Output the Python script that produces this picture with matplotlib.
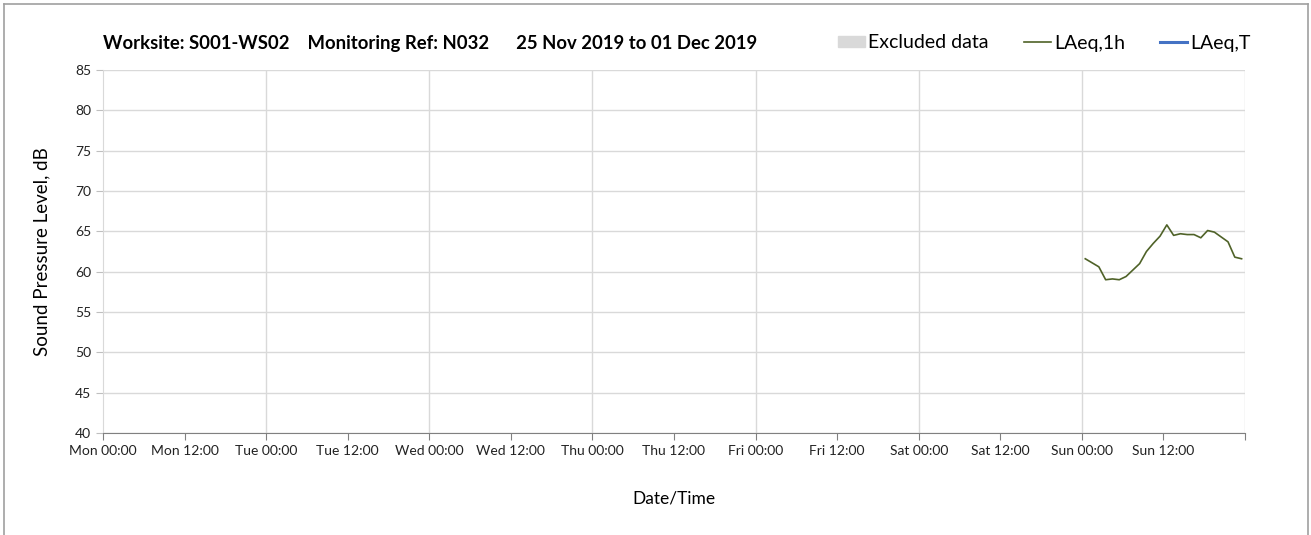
import matplotlib.pyplot as plt
import matplotlib.patches as mpatches
from matplotlib.lines import Line2D

plt.rcParams['font.family'] = ['Lato', 'DejaVu Sans']

# hours since Mon 00:00
hours = [144.5, 145.5, 146.5, 147.5, 148.5, 149.5, 150.5, 151.5, 152.5, 153.5, 154.5, 155.5,
         156.5, 157.5, 158.5, 159.5, 160.5, 161.5, 162.5, 163.5, 164.5, 165.5, 166.5, 167.5]
laeq_1h = [61.6, 61.1, 60.6, 59.0, 59.1, 59.0, 59.4, 60.2, 61.0, 62.5, 63.5, 64.4,
           65.8, 64.5, 64.7, 64.6, 64.6, 64.2, 65.1, 64.9, 64.3, 63.7, 61.8, 61.6]

tick_hours = list(range(0, 169, 12))
tick_labels = ['Mon 00:00', 'Mon 12:00', 'Tue 00:00', 'Tue 12:00', 'Wed 00:00', 'Wed 12:00',
               'Thu 00:00', 'Thu 12:00', 'Fri 00:00', 'Fri 12:00', 'Sat 00:00', 'Sat 12:00',
               'Sun 00:00', 'Sun 12:00', '']

title = 'Worksite: S001-WS02    Monitoring Ref: N032      25 Nov 2019 to 01 Dec 2019'

fig = plt.figure(figsize=(13.11, 5.35), dpi=100)
ax = fig.add_axes([103 / 1311, 1 - 433 / 535, (1245 - 103) / 1311, (433 - 70) / 535])

ax.plot(hours, laeq_1h, color='#4f6228', linewidth=1.2)

ax.set_xlim(0, 168)
ax.set_ylim(40, 85)
ax.set_xticks(tick_hours)
ax.set_xticklabels(tick_labels, fontsize=10, color='#222222')
ax.set_yticks(range(40, 86, 5))
ax.tick_params(axis='y', labelsize=10, colors='#222222', length=5, color='#bfbfbf')
ax.tick_params(axis='x', length=5, color='#808080', colors='#222222')

# gridlines: horizontal every 5 dB, vertical every day
ax.grid(axis='y', color='#d9d9d9', linewidth=1)
for d in range(24, 169, 24):
    ax.axvline(d, color='#d9d9d9', linewidth=1, zorder=0)

for side in ['top', 'right']:
    ax.spines[side].set_visible(False)
ax.spines['left'].set_color('#d9d9d9')
ax.spines['bottom'].set_color('#808080')

ax.set_xlabel('Date/Time', fontsize=12.5, labelpad=24)
ax.set_ylabel('Sound Pressure Level, dB', fontsize=13.5, labelpad=18)

fig.text(103 / 1311, 1 - 43 / 535, title, fontsize=13.3, fontweight='bold', va='center')

handles = [mpatches.Patch(color='#d9d9d9', label='Excluded data'),
           Line2D([], [], color='#4f6228', linewidth=1.2, label='LAeq,1h'),
           Line2D([], [], color='#4472c4', linewidth=2.2, label='LAeq,T')]
fig.legend(handles=handles, loc='center right', bbox_to_anchor=(1268 / 1311, 1 - 43 / 535),
           ncol=3, frameon=False, fontsize=14, handlelength=1.4, handletextpad=0.15,
           columnspacing=1.8, handleheight=0.55)

# outer frame
fig.add_artist(Line2D([4 / 1311, 4 / 1311], [0, 1 - 4 / 535], transform=fig.transFigure, color='#a0a0a0', lw=1.2))
fig.add_artist(Line2D([4 / 1311, 1308 / 1311], [1 - 4 / 535, 1 - 4 / 535], transform=fig.transFigure, color='#a0a0a0', lw=1.2))
fig.add_artist(Line2D([1308 / 1311, 1308 / 1311], [0, 1 - 4 / 535], transform=fig.transFigure, color='#a0a0a0', lw=1.2))

fig.savefig('out.png', dpi=100)
